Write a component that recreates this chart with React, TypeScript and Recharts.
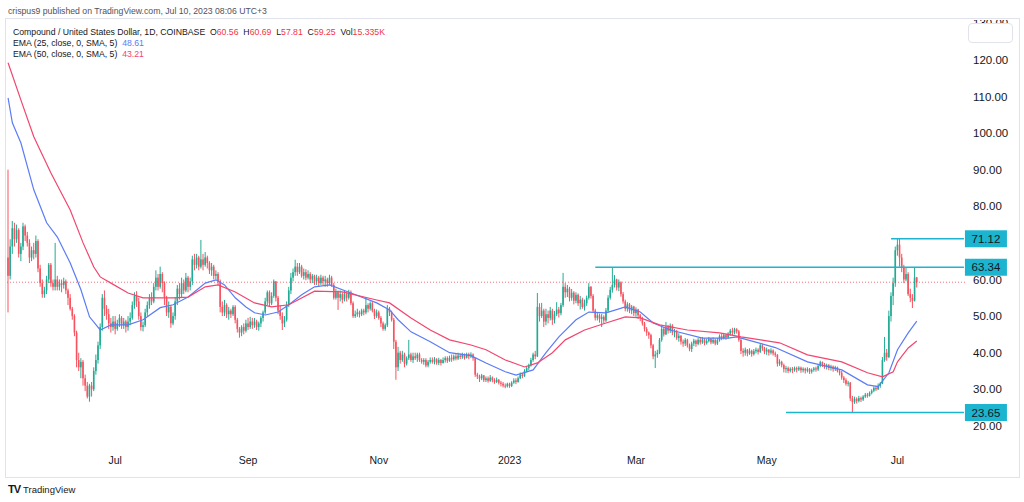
import React from 'react'
import { ComposedChart, Bar, Line, XAxis, YAxis, ReferenceLine } from 'recharts'

// COMP/USD daily candles, 12 May 2022 -> 10 Jul 2023 (open = previous close)
const firstOpen = 66

const closes = [
  61, 69, 74, 71, 73.5, 67, 69, 74.5, 72, 70,
  66, 68, 67, 70.5, 63, 59, 56, 57, 60, 64,
  59, 58, 60, 58, 59, 58.5, 59.5, 57, 55, 52,
  50, 45.5, 38, 36, 37.5, 33, 31, 28, 31, 30,
  35, 38, 42, 47, 55, 52, 50.5, 48, 47, 48.5,
  46.5, 48, 49.5, 47.5, 48.5, 47, 48.5, 49.5, 53, 55.5,
  54, 50, 47, 47.5, 51, 53, 55, 54, 58, 60.5,
  58, 61.5, 59, 55, 51, 52.5, 48, 50, 54, 57.5,
  56, 59, 57, 60.5, 58, 59.5, 65.5, 64, 66, 63.5,
  65.5, 64, 66, 64.5, 62.5, 63.5, 61, 61.5, 59.5, 52.5,
  51, 53, 50.5, 51.5, 50.5, 52.5, 49, 46.5, 45.5, 47,
  46, 48, 47, 48.5, 47.5, 48.5, 47, 48, 49.5, 51,
  54, 56.5, 53.5, 55.5, 59.5, 55, 51.5, 50, 48, 49,
  53, 57, 60.5, 62, 63.5, 62, 63.5, 61, 62, 60.5,
  61.5, 60, 61, 59.5, 60.5, 59, 60.5, 59.5, 60, 59,
  60.5, 58.5, 55, 56.5, 55, 56, 54.5, 56, 55, 56.5,
  53.5, 50, 50.5, 51, 50.5, 51.5, 51, 53, 52, 53.5,
  51.5, 50, 51, 49.5, 48, 46.5, 47.5, 52, 51, 49,
  43, 36, 40, 38, 39.5, 37, 38.5, 39.5, 38, 39,
  38.5, 39.5, 38, 37.5, 38, 36.5, 37.5, 38, 37.5, 38.2,
  37.2, 38, 37.2, 38, 38.5, 37.8, 38.6, 38.2, 39, 38.4,
  39.2, 38.8, 39.5, 38.6, 39.6, 39, 39.5, 38.5, 34, 33.5,
  33, 33.8, 32.5, 33, 32.3, 33.2, 32.5, 32, 32.6, 31.8,
  31.5, 31, 30.8, 31.5, 30.9, 31.8, 32.4, 32, 33, 34,
  33.6, 35, 35.8, 36.5, 38, 39.5, 39, 52.5, 50, 51.5,
  48.5, 50.5, 49.5, 51.5, 49, 50.5, 51.8, 50.8, 53, 58,
  56.5, 57.5, 55, 56.4, 54.2, 55.8, 53.5, 54.5, 52.5, 53.5,
  55, 58, 55.5, 51.5, 49.5, 50.2, 49.2, 49.8, 48.8, 51.5,
  55, 57.2, 58.5, 60, 57.8, 59.2, 56, 54, 52, 53.2,
  51.5, 52.6, 50.8, 51.8, 50.2, 49.5, 48, 46.5, 45.5, 44.8,
  42, 39, 39.5, 40, 43.5, 46.5, 45, 47, 46, 47.4,
  45.5, 45.8, 44, 44.6, 43, 42.5, 43.5, 42, 41, 42.5,
  43.3, 42.4, 43.5, 42.8, 43.6, 42.6, 43.2, 43.8, 42.8, 43.5,
  42.5, 43.4, 44.5, 44, 44.8, 44.2, 45.2, 46, 45.5, 46.4,
  45.8, 43.5, 40.5, 40, 40.8, 39.8, 40.5, 39.6, 40.4, 40.8,
  40.2, 42, 41.2, 40.3, 40.8, 40, 40.6, 39.8, 39.4, 37,
  37.5, 36.6, 35.5, 35.8, 35, 35.6, 35.2, 35.8, 35.4, 35.9,
  35.2, 35.6, 35.1, 35.5, 34.8, 35.3, 35.7, 35.4, 36.4, 37.4,
  36.8, 36.2, 36.6, 35.8, 36.2, 35.5, 36, 35, 34.5, 33.2,
  32.5, 31.5, 31.8, 27.5, 26.5, 27.4, 26.8, 27.6, 27.2, 28,
  28.5, 28.2, 29, 29.6, 30.4, 30, 31, 31.6, 38, 40,
  38.8, 50, 55.5, 59, 68, 69.5, 66, 63.2, 60, 61.5,
  56, 55, 54.2, 60.56, 59.25,
]

const highs = [
  90, 71, 76, 75.5, 75, 74, 70, 75.5, 75, 73,
  71, 69, 70, 72, 71, 64, 60, 58, 61, 64.5,
  64.5, 60, 70, 61, 60, 60, 60.5, 60, 57.5, 56,
  52.5, 50.5, 46, 40, 38.5, 38, 34, 32, 31.5, 32,
  36, 39.5, 43, 48, 56, 57, 53, 52, 49.5, 50,
  50, 49, 50.5, 50, 49.5, 49, 50, 51, 54, 56.5,
  56.8, 55, 51, 48.5, 52, 54, 56, 56.5, 59, 62.5,
  61.5, 63.5, 62, 59.5, 55.5, 54, 53, 51, 55, 58.5,
  59, 60.5, 60, 61.8, 61, 60.5, 66.5, 67, 67, 66.5,
  70.8, 67, 67.5, 66.5, 65, 64.5, 64, 62.5, 62, 60,
  54, 54.4, 53.5, 52.5, 52, 53, 53, 49.5, 47, 47.5,
  48, 49, 49.5, 49.8, 49.5, 49.5, 49, 48.5, 50, 51.5,
  55, 57, 57, 56.5, 60, 59.5, 55.5, 53, 51, 50,
  54, 58, 61.8, 63, 65.4, 64.5, 64.5, 64, 63, 62.8,
  62.5, 62, 61.5, 61.3, 61.3, 61, 61.3, 61, 61, 60.5,
  61.3, 61, 59, 57.5, 57, 57, 56.5, 57, 56.5, 57.2,
  57, 54, 51.5, 52, 51.5, 52, 52, 55, 53.5, 54,
  54, 52, 51.8, 51.5, 50, 48.5, 48, 53, 52.5, 51.5,
  49.5, 43.5, 41.6, 40.5, 40.5, 40, 39, 43.5, 40, 40,
  40, 40, 40, 38.5, 38.5, 38.5, 38, 38.7, 38.7, 38.8,
  38.5, 38.6, 38.3, 38.7, 39, 39, 39.2, 39.5, 39.5, 39.6,
  40, 39.8, 40, 39.8, 40, 40, 40.1, 39.8, 38.6, 34.5,
  34, 34.2, 33.9, 33.5, 33.5, 33.9, 33.5, 33, 33.2, 32.8,
  32.3, 32, 31.6, 31.8, 31.8, 32.2, 33, 33, 33.5, 34.6,
  34.5, 35.5, 36.4, 37, 38.6, 40, 40.5, 56.3, 53.5, 53.6,
  52, 52, 51.5, 52.5, 52, 51.4, 53.8, 52.5, 53.6, 61.8,
  59, 58.5, 58, 57.4, 56.8, 56.5, 56.2, 55.5, 55, 54.5,
  55.6, 59, 58.2, 56, 52, 51, 50.7, 50.6, 50.2, 52.2,
  55.7, 58, 63.34, 61.2, 60.2, 60, 59.5, 56.6, 54.5, 53.8,
  53.6, 53, 52.8, 52.4, 52, 50.6, 49.8, 48.4, 47, 45.8,
  45.2, 42.4, 40.5, 40.8, 44, 47.2, 47, 48.4, 47.6, 48,
  47.8, 46.5, 46.2, 45.3, 44.8, 43.6, 44, 43.8, 42.5, 43,
  43.8, 43.6, 44, 44.2, 44.3, 43.9, 43.8, 44.3, 44, 44.2,
  43.8, 44, 45, 45.2, 45.4, 45.2, 45.6, 46.5, 46.8, 46.8,
  46.7, 46.2, 44, 41.2, 41.4, 41, 41.2, 40.8, 41, 41.4,
  41.2, 42.5, 42.4, 41.6, 41.4, 41, 41.2, 40.9, 40.3, 39.6,
  38.2, 37.8, 37, 36.4, 36.2, 36, 36.1, 36.2, 36.2, 36.3,
  36.2, 36, 35.9, 36, 35.8, 35.7, 36.1, 36.2, 36.8, 37.8,
  37.6, 37.2, 37, 36.9, 36.7, 36.5, 36.4, 36.2, 35.5, 35,
  33.6, 33, 32.3, 32, 28.2, 28, 27.8, 28.2, 28, 28.4,
  29, 29, 29.4, 30, 30.8, 31, 31.6, 32, 38.8, 44.3,
  41, 51.5, 56.5, 60.5, 69, 71.12, 71.12, 67, 64, 63.4,
  62, 57.5, 56, 63.3, 60.69,
]

const lows = [
  51, 60, 67, 69, 70, 66, 65, 68, 70.5, 69,
  64.5, 65, 65.5, 66, 62, 58, 55, 55, 56, 59,
  58, 57, 57, 57, 57, 56.5, 57.5, 56, 53, 51.5,
  49, 44.5, 36, 35, 33, 31, 29.5, 27.5, 26.6, 28,
  29.5, 34, 37, 41, 46, 50, 49, 46.5, 45.5, 46,
  45, 46, 47, 46.5, 46.5, 45.5, 46, 47.5, 49, 52,
  52.5, 49, 46, 45.8, 47, 50, 52, 53, 53.5, 57,
  57, 57.5, 56.5, 53, 50, 49.5, 46.8, 47.5, 49, 53,
  54.5, 55, 56, 56.5, 56.5, 57, 58.5, 62.5, 63, 62.5,
  63, 62.5, 63.5, 63, 61.5, 61, 60, 60, 58.5, 51,
  50, 50, 49.5, 49, 49.5, 50, 48, 45.5, 44.1, 44.5,
  45, 45.5, 46.2, 46.5, 46.5, 46.8, 46.2, 46, 47, 48.5,
  50.5, 53, 52.5, 53, 55, 54, 50.5, 49, 46.2, 47,
  48.5, 52.5, 56, 59.5, 61, 61, 61.5, 60.5, 60, 59.8,
  60, 59, 59, 58.5, 58.5, 58, 58.5, 58.5, 58, 58,
  58.5, 58, 54.5, 54.5, 51.7, 54, 53.5, 54, 54, 54.5,
  53, 49.5, 49.5, 49.8, 49.6, 50, 50.2, 50.5, 51, 51.5,
  51, 49.2, 49.5, 49, 47, 46, 46, 47, 50, 48.5,
  41, 32.6, 35, 37, 37.5, 36, 36.5, 38, 37.5, 37.2,
  38, 37.5, 37.5, 37, 36.7, 36, 36, 37, 37, 36.8,
  36.7, 36.6, 36.5, 37, 37.3, 37.2, 37.5, 37.5, 37.8, 37.9,
  38, 38.2, 38.3, 38.1, 38.4, 38.2, 38.5, 37.8, 33.4, 32.8,
  32, 32.5, 32, 32, 31.8, 32, 31.9, 31.5, 31.7, 31.3,
  30.8, 30.5, 30.3, 30.5, 30.4, 30.6, 31.5, 31.4, 31.8, 32.8,
  33, 33.4, 34.6, 35.2, 36.2, 37.5, 38.2, 38.8, 48.5, 49.5,
  47, 47.5, 48, 48.8, 47.6, 48, 50, 49.6, 50.2, 52.5,
  55, 55.2, 54, 54.2, 53.2, 53.5, 52.8, 51.8, 52, 51.5,
  52.8, 54.5, 54.8, 51, 48.8, 48.8, 48.2, 47, 48, 48.4,
  51, 54.5, 56.4, 57.8, 57, 56.8, 55.3, 53.4, 51.3, 51.2,
  50.8, 50.5, 50, 49.8, 49.2, 48.6, 47.4, 45.8, 44.6, 43.8,
  41.2, 38.2, 35.8, 38.6, 39.6, 43, 44.4, 44.8, 45.2, 45.4,
  44.8, 44.2, 43.5, 43, 42.2, 41.6, 41.8, 41.4, 40.4, 40.2,
  41.8, 41.6, 42, 42.2, 42.4, 42, 42.2, 42.8, 42.3, 42.4,
  42, 42.1, 43, 43.4, 43.6, 43.5, 43.8, 44.6, 44.8, 45,
  45.2, 43, 39.6, 38.9, 39.2, 39, 39.4, 38.9, 39.2, 39.8,
  39.5, 39.9, 40.5, 39.6, 39.4, 39.2, 39.5, 39.2, 38.8, 36.2,
  36.4, 36, 34.6, 34.5, 34.4, 34.6, 34.4, 34.8, 34.6, 35,
  34.5, 34.6, 34.3, 34.6, 34.2, 34.3, 34.8, 34.8, 35, 36,
  36.1, 35.6, 35.4, 35.2, 35.1, 34.8, 35, 34.6, 33.8, 32.6,
  31.7, 31, 30.8, 26.8, 23.65, 26, 26.1, 26.4, 26.5, 26.8,
  27.6, 27.7, 28, 28.6, 29.2, 29.5, 29.8, 30.4, 31.4, 37.5,
  37.8, 38.5, 48.5, 53, 58, 66.5, 63.5, 62, 59, 59.5,
  55.5, 53.8, 52.2, 54, 57.81,
]

// EMA readings (candle index -> value)
const ema25Idx = [0, 2, 6, 12, 18, 23, 29, 34, 38, 43, 48, 56, 63, 71, 77, 84, 92, 97, 101, 106, 111, 115, 120, 126, 131, 137, 143, 150, 160, 172, 178, 182, 188, 197, 206, 216, 223, 232, 237, 245, 251, 257, 265, 271, 279, 288, 295, 301, 309, 324, 336, 340, 348, 358, 373, 389, 401, 406, 411, 415, 420, 424]
const ema25Val = [109.6, 102.8, 97.3, 84.5, 75.5, 71.6, 64.5, 57.2, 49.8, 46.2, 47.6, 47.6, 49, 52.3, 53.1, 55.2, 59, 59.9, 58.5, 55, 52.5, 50.9, 50.3, 51.1, 53.1, 55.8, 58, 58.5, 56.3, 53.6, 51.7, 49, 45.7, 43, 40, 39.2, 37.2, 34.8, 33.9, 35.3, 40, 44.3, 49, 51.1, 50.9, 52.5, 51.1, 48.1, 46.2, 44, 44, 44.3, 43, 41.4, 37.5, 35.3, 31.2, 30.7, 34.5, 40.8, 45.4, 48.61]

const ema50Idx = [0, 6, 12, 20, 29, 35, 40, 43, 48, 56, 63, 71, 77, 84, 92, 98, 106, 115, 123, 131, 143, 156, 172, 178, 188, 197, 206, 216, 223, 232, 241, 247, 254, 260, 269, 279, 288, 295, 304, 317, 332, 342, 360, 373, 389, 401, 408, 413, 415, 420, 424]
const ema50Val = [119.2, 109, 99, 89.1, 79, 70, 63.4, 60.7, 59, 56.3, 55, 55, 55, 55.2, 58, 58.5, 56.6, 53.6, 52.5, 53.1, 56.8, 56.6, 54.4, 53.6, 49.5, 46.2, 43.5, 42.1, 40.8, 38, 36.1, 37.2, 40, 43.5, 46.2, 48.1, 49.8, 49.5, 47.6, 46.2, 45.4, 44.3, 42.7, 39.4, 37.5, 34.5, 33.4, 34.8, 37.5, 41.3, 43.21]

const monthTickIdx = [50, 112, 173, 234, 293, 354, 415]
const monthTickLabels = ['Jul', 'Sep', 'Nov', '2023', 'Mar', 'May', 'Jul']
// 70.00 is hidden behind the 71.12 tag in the original
const priceTicks = [20, 30, 40, 50, 60, 80, 90, 100, 110, 120, 130]

const levelStart = [412, 274, 363]
const levelValue = [71.12, 63.34, 23.65]
const lastPrice = 59.25

const UP = '#22ab94'
const DOWN = '#f7525f'
const CYAN = '#1cb4cf'
const EMA25_COLOR = '#5b7cf6'
const EMA50_COLOR = '#f2466f'
const FONT = '"Liberation Sans", Arial, sans-serif'

const EMPTY_SLOTS = 22
const lastSlot = closes.length + EMPTY_SLOTS - 1

const ema25Map = new Map(ema25Idx.map((k, j) => [k, ema25Val[j]]))
const ema50Map = new Map(ema50Idx.map((k, j) => [k, ema50Val[j]]))

const rows = Array.from({ length: closes.length + EMPTY_SLOTS }, (_, i) => {
  const row: any = { i, ema25: ema25Map.get(i) ?? null, ema50: ema50Map.get(i) ?? null }
  if (i < closes.length) {
    const o = i === 0 ? firstOpen : closes[i - 1]
    const c = closes[i]
    const h = Math.max(highs[i] ?? c, o, c)
    const l = Math.min(lows[i] ?? c, o, c)
    row.o = o
    row.c = c
    row.h = h
    row.l = l
    row.range = [l, h]
  }
  return row
})

function Candle(props: any) {
  const { x, y, width, height, payload } = props
  if (!payload || payload.c == null || !isFinite(y) || !isFinite(height)) return <g />
  const top = Math.min(y, y + height)
  const span = Math.abs(height)
  const { o, h, l, c } = payload
  const toY = (v: number) => (h === l ? top : top + ((h - v) / (h - l)) * span)
  const color = c >= o ? UP : DOWN
  const cx = x + width / 2
  const bodyW = Math.max(1, width * 0.8)
  const yo = toY(o)
  const yc = toY(c)
  const bodyTop = Math.min(yo, yc)
  const bodyH = Math.max(1, Math.abs(yo - yc))
  return (
    <g>
      <line x1={cx} x2={cx} y1={top} y2={top + span} stroke={color} strokeWidth={1} />
      <rect x={cx - bodyW / 2} y={bodyTop} width={bodyW} height={bodyH} fill={color} />
    </g>
  )
}

function LevelTag(props: any) {
  const { viewBox, text } = props
  if (!viewBox) return null
  const x = viewBox.x + viewBox.width + 1
  const y = viewBox.y
  return (
    <g>
      <rect x={x} y={y - 8.5} width={42} height={17} fill={CYAN} />
      <text x={x + 21} y={y + 4} textAnchor="middle" fontSize={11.5} fontFamily={FONT} fill="#131722">
        {text}
      </text>
    </g>
  )
}

const red = { color: '#f23645' }

export default function App() {
  const last = rows[closes.length - 1]
  return (
    <div style={{ position: 'absolute', left: 0, top: 0, width: 1024, height: 502, background: '#fff', fontFamily: FONT }}>
      <div style={{ position: 'absolute', left: 8, top: 6, fontSize: 8.7, color: '#50535e', whiteSpace: 'nowrap' }}>
        crispus9 published on TradingView.com, Jul 10, 2023 08:06 UTC+3
      </div>

      <ComposedChart
        width={1024}
        height={502}
        data={rows}
        margin={{ top: 20, right: 0, bottom: 25, left: 7 }}
        barCategoryGap={0}
        style={{ position: 'absolute', left: 0, top: 0 }}
      >
        <XAxis
          dataKey="i"
          type="category"
          ticks={monthTickIdx}
          interval={0}
          tickFormatter={(v: number) => monthTickLabels[monthTickIdx.indexOf(v)] ?? ''}
          axisLine={false}
          tickLine={false}
          tickSize={0}
          tickMargin={11}
          height={31}
          tick={{ fontSize: 10.5, fill: '#131722', fontFamily: FONT }}
        />
        <YAxis
          orientation="right"
          type="number"
          domain={[14.5, 130.9]}
          allowDataOverflow
          ticks={priceTicks}
          interval={0}
          tickFormatter={(v: number) => v.toFixed(2)}
          axisLine={false}
          tickLine={false}
          tickSize={0}
          tickMargin={8}
          width={59}
          tick={{ fontSize: 11.5, fill: '#131722', fontFamily: FONT }}
        />
        <ReferenceLine y={lastPrice} stroke="#f23645" strokeOpacity={0.7} strokeDasharray="1 2" strokeWidth={1} />
        <Bar dataKey="range" shape={<Candle />} isAnimationActive={false} />
        <Line type="linear" dataKey="ema25" stroke={EMA25_COLOR} strokeWidth={1.2} dot={false} activeDot={false} connectNulls isAnimationActive={false} />
        <Line type="linear" dataKey="ema50" stroke={EMA50_COLOR} strokeWidth={1.2} dot={false} activeDot={false} connectNulls isAnimationActive={false} />
        {levelValue.map((v, k) => (
          <ReferenceLine
            key={k}
            segment={[{ x: levelStart[k], y: v }, { x: lastSlot, y: v }]}
            stroke={CYAN}
            strokeWidth={1.5}
            label={<LevelTag text={v.toFixed(2)} />}
          />
        ))}
      </ComposedChart>

      {/* the top price label is clipped by the pane edge and a toolbar box */}
      <div style={{ position: 'absolute', left: 966, top: 16, width: 52, height: 4, background: '#fff' }} />
      <div style={{ position: 'absolute', left: 968, top: 23, width: 45, height: 20, background: '#fff', border: '1px solid #e0e3eb', borderRadius: 4, boxSizing: 'border-box' }} />
      <div style={{ position: 'absolute', left: 5, top: 18, width: 1013, height: 458, border: '1px solid #e0e3eb', pointerEvents: 'none' }} />

      <div style={{ position: 'absolute', left: 13, top: 26.5, fontSize: 8.7, color: '#131722', whiteSpace: 'nowrap', lineHeight: '11px' }}>
        <div>
          Compound / United States Dollar, 1D, COINBASE&nbsp;&nbsp;O<span style={red}>{last.o.toFixed(2)}</span>&nbsp;&nbsp;H
          <span style={red}>{last.h.toFixed(2)}</span>&nbsp;&nbsp;L<span style={red}>{last.l.toFixed(2)}</span>&nbsp;&nbsp;C
          <span style={red}>{last.c.toFixed(2)}</span>&nbsp;&nbsp;Vol<span style={red}>15.335K</span>
        </div>
        <div>
          EMA (25, close, 0, SMA, 5)&nbsp;&nbsp;<span style={{ color: EMA25_COLOR }}>{ema25Val[ema25Val.length - 1].toFixed(2)}</span>
        </div>
        <div>
          EMA (50, close, 0, SMA, 5)&nbsp;&nbsp;<span style={{ color: EMA50_COLOR }}>{ema50Val[ema50Val.length - 1].toFixed(2)}</span>
        </div>
      </div>

      <div style={{ position: 'absolute', left: 8, top: 483, display: 'flex', alignItems: 'center', gap: 3, whiteSpace: 'nowrap' }}>
        <span style={{ fontSize: 11, fontWeight: 900, color: '#131722', letterSpacing: -1 }}>TV</span>
        <span style={{ fontSize: 9.5, color: '#131722' }}>TradingView</span>
      </div>
    </div>
  )
}
